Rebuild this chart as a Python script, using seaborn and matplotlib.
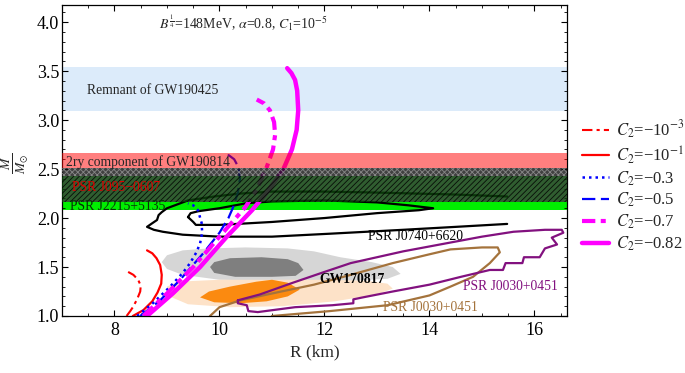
import numpy as np
import pandas as pd
import matplotlib
matplotlib.use('Agg')
import matplotlib.pyplot as plt
from matplotlib.ticker import MultipleLocator
import seaborn as sns

# ---------------- data ----------------
# M-R curves for different C2
r_c2_1e3 = [8.23, 8.30, 8.35, 8.43, 8.49, 8.50, 8.45, 8.36, 8.26]
m_c2_1e3 = [1.00, 1.05, 1.09, 1.17, 1.25, 1.31, 1.37, 1.42, 1.45]

r_c2_1e1 = [8.35, 8.55, 8.72, 8.82, 8.89, 8.90, 8.87, 8.80, 8.72, 8.62]
m_c2_1e1 = [1.00, 1.06, 1.15, 1.24, 1.33, 1.42, 1.52, 1.59, 1.64, 1.67]

r_c2_03 = [8.43, 8.73, 9.06, 9.30, 9.44, 9.56, 9.63, 9.67, 9.66, 9.59, 9.50, 9.40]
m_c2_03 = [1.00, 1.13, 1.30, 1.44, 1.54, 1.65, 1.74, 1.85, 1.95, 2.08, 2.13, 2.15]

r_c2_05 = [8.49, 8.87, 9.25, 9.69, 10.00, 10.17, 10.26, 10.35, 10.39, 10.36, 10.28, 10.18, 10.07]
m_c2_05 = [1.00, 1.16, 1.37, 1.64, 1.85, 2.00, 2.11, 2.26, 2.40, 2.52, 2.60, 2.64, 2.65]

r_c2_07 = [8.55, 9.00, 9.50, 10.00, 10.49, 10.71, 10.90, 11.02, 11.06, 11.04, 10.96, 10.85, 10.71]
m_c2_07 = [1.00, 1.23, 1.50, 1.81, 2.11, 2.29, 2.52, 2.70, 2.85, 2.98, 3.10, 3.17, 3.21]

r_c2_082 = [8.62, 9.11, 9.63, 10.14, 10.62, 10.90, 11.21, 11.38, 11.47, 11.50, 11.48, 11.44, 11.37, 11.29]
m_c2_082 = [1.00, 1.23, 1.50, 1.81, 2.08, 2.26, 2.49, 2.70, 2.90, 3.10, 3.30, 3.41, 3.48, 3.53]

# PSR J0740+6620 contours
r_j0740_out = [15.48, 14.5, 13.0, 12.0, 11.0, 10.4, 9.9, 9.4, 9.0, 8.9, 8.84, 8.81, 8.70, 8.62,
               8.75, 8.92, 9.3, 10.0, 11.0, 12.1, 13.5, 14.5, 15.48]
m_j0740_out = [2.22, 2.24, 2.26, 2.27, 2.27, 2.25, 2.22, 2.18, 2.10, 2.06, 2.03, 1.98, 1.94, 1.91,
               1.88, 1.86, 1.83, 1.81, 1.81, 1.84, 1.88, 1.91, 1.94]
r_j0740_in = [9.40, 9.45, 9.60, 10.0, 10.5, 11.0, 12.0, 13.0, 13.6, 14.07, 13.8, 13.0, 12.0, 11.0,
              10.0, 9.55, 9.50, 9.40]
m_j0740_in = [2.01, 2.05, 2.07, 2.10, 2.15, 2.17, 2.18, 2.16, 2.13, 2.10, 2.08, 2.05, 2.00, 1.96,
              1.93, 1.93, 1.96, 2.01]

# GW170817 regions
r_gw_hi_90 = [8.9, 9.0, 9.3, 9.8, 10.5, 11.3, 11.8, 12.3, 12.9, 13.3, 13.45, 13.2, 12.5, 11.0, 10.0, 9.3, 9.0]
m_gw_hi_90 = [1.55, 1.62, 1.67, 1.69, 1.70, 1.69, 1.66, 1.60, 1.55, 1.50, 1.43, 1.38, 1.36, 1.36, 1.37, 1.42, 1.48]
r_gw_hi_50 = [9.82, 9.9, 10.2, 10.8, 11.3, 11.5, 11.6, 11.45, 11.0, 10.3, 9.9]
m_gw_hi_50 = [1.50, 1.55, 1.59, 1.60, 1.58, 1.54, 1.47, 1.41, 1.40, 1.40, 1.44]
r_gw_lo_90 = [9.0, 9.2, 10.0, 11.0, 12.0, 12.8, 13.2, 13.3, 13.0, 12.2, 11.2, 10.2, 9.4, 9.05]
m_gw_lo_90 = [1.30, 1.35, 1.37, 1.37, 1.37, 1.36, 1.33, 1.28, 1.22, 1.15, 1.10, 1.09, 1.12, 1.20]
r_gw_lo_50 = [9.63, 9.8, 10.2, 10.7, 11.0, 11.3, 11.53, 11.3, 10.9, 10.4, 9.9]
m_gw_lo_50 = [1.19, 1.25, 1.30, 1.35, 1.37, 1.34, 1.27, 1.20, 1.15, 1.13, 1.14]

# PSR J0030+0451 contours
r_j0030_a = [9.78, 9.82, 10.0, 10.4, 11.0, 11.8, 12.5, 13.3, 14.0, 14.4, 15.0, 15.3, 15.34,
             15.15, 14.83, 14.4, 14.0, 13.2, 12.1, 11.0, 10.95]
m_j0030_a = [0.95, 1.00, 1.09, 1.16, 1.23, 1.32, 1.42, 1.54, 1.63, 1.68, 1.70, 1.70, 1.65,
             1.54, 1.40, 1.30, 1.21, 1.11, 1.05, 1.00, 0.95]
r_j0030_b = [10.35, 10.77, 11.4, 12.0, 12.5, 13.5, 14.4, 15.0, 15.6, 16.2, 16.52, 16.55, 16.33,
             16.43, 16.2, 16.1, 15.8, 15.77, 15.45, 15.4, 15.15, 14.6, 14.0, 13.3, 12.73, 12.55,
             12.55, 12.15, 11.44, 10.73, 10.55, 10.52, 10.35, 10.35]
m_j0030_b = [1.16, 1.22, 1.34, 1.45, 1.54, 1.66, 1.75, 1.81, 1.86, 1.88, 1.88, 1.85, 1.80,
             1.73, 1.69, 1.60, 1.60, 1.54, 1.54, 1.47, 1.47, 1.40, 1.32, 1.25, 1.19, 1.17,
             1.13, 1.11, 1.09, 1.04, 1.05, 1.11, 1.13, 1.16]

# Mass bands
band_gw190425 = (3.09, 3.54)
band_gw190814 = (2.51, 2.665)
band_top_hatch = (2.43, 2.51)
band_j0952 = (2.16, 2.43)
band_j2215 = (2.08, 2.16)

curve_labels = ['$C_2$=\u221210$^{-3}$', '$C_2$=\u221210$^{-1}$', '$C_2$=\u22120.3',
                '$C_2$=\u22120.5', '$C_2$=\u22120.7', '$C_2$=\u22120.82']
x_ticks = [8, 10, 12, 14, 16]

# ---------------- style ----------------
sns.set_style('ticks')
plt.rcParams['font.family'] = ['Liberation Serif', 'DejaVu Serif']
plt.rcParams['mathtext.fontset'] = 'stix'
plt.rcParams['hatch.linewidth'] = 0.6

fig = plt.figure(figsize=(6.85, 3.73), dpi=100)
ax = fig.add_axes([62/685, 1-316/373, 505/685, 311/373])

# bands
ax.axhspan(*band_gw190425, color='#dcebfa', lw=0, zorder=0)
ax.axhspan(*band_j2215, color='#00ee00', lw=0, zorder=0.5)

# GW170817 filled regions
ax.fill(r_gw_hi_90, m_gw_hi_90, color='#d6d6d6', lw=0, zorder=1)
ax.fill(r_gw_lo_90, m_gw_lo_90, color='#fde2c8', lw=0, zorder=1)
ax.fill(r_gw_hi_50, m_gw_hi_50, color='#7f7f7f', lw=0, zorder=1.1)
ax.fill(r_gw_lo_50, m_gw_lo_50, color='#fb8a10', lw=0, zorder=1.1)

def draw(r, m, **kw):
    df = pd.DataFrame({'R': r, 'M': m})
    sns.lineplot(data=df, x='R', y='M', sort=False, estimator=None, ax=ax, legend=False, **kw)

# contours
draw(r_j0740_out, m_j0740_out, color='black', lw=1.6, zorder=2)
draw(r_j0740_in, m_j0740_in, color='black', lw=1.6, zorder=2)
draw(r_j0030_a, m_j0030_a, color='#a4733c', lw=1.6, zorder=2)
draw(r_j0030_b, m_j0030_b, color='#82117f', lw=1.6, zorder=2)

# M-R curves
draw(r_c2_1e3, m_c2_1e3, color='#ff0000', lw=1.5, linestyle=(0, (5, 2, 1.5, 2)), label=curve_labels[0], zorder=2.5)
draw(r_c2_1e1, m_c2_1e1, color='#ff0000', lw=1.6, linestyle='-', label=curve_labels[1], zorder=2.5)
draw(r_c2_03, m_c2_03, color='#0000ff', lw=1.8, linestyle=(0, (1, 1.6)), label=curve_labels[2], zorder=2.5)
draw(r_c2_05, m_c2_05, color='#0000ff', lw=1.6, linestyle=(0, (6, 2.5)), label=curve_labels[3], zorder=2.5)
draw(r_c2_07, m_c2_07, color='#ff00ff', lw=3.0, linestyle=(0, (3.2, 1.3, 1.2, 1.3)), label=curve_labels[4], zorder=2.5)
draw(r_c2_082, m_c2_082, color='#ff00ff', lw=3.2, linestyle='-', label=curve_labels[5], zorder=2.4)

# overlay bands (semi-transparent over curves)
ax.axhspan(*band_gw190814, facecolor='#ff0000', alpha=0.5, lw=0, zorder=3)
ax.axhspan(*band_top_hatch, facecolor='#111111', edgecolor='#9a9a9a', hatch='xxxxxx', alpha=0.8, lw=0, zorder=3)
ax.axhspan(*band_j0952, facecolor='#0b400b', edgecolor='#000000', hatch='//////', alpha=0.85, lw=0, zorder=3)

# texts
fs = 9.8
ax.text(8.85, 4.0, r'$B^{\frac{1}{4}}$=148MeV, $\alpha$=0.8, $C_1$=10$^{-5}$', fontsize=10, va='center', zorder=5)
ax.text(7.48, 3.30, 'Remnant of GW190425', fontsize=fs, va='center', zorder=5)
ax.text(7.08, 2.575, '2ry component of GW190814', fontsize=fs, va='center', zorder=5)
ax.text(7.19, 2.31, 'PSR J095\u22120607', fontsize=fs, va='center', color='#dd0000', zorder=5)
ax.text(7.15, 2.115, 'PSR J2215+5135', fontsize=fs, va='center', color='#063306', zorder=5)
ax.text(12.83, 1.81, 'PSR J0740+6620', fontsize=fs, va='center', color='black', zorder=5)
ax.text(11.91, 1.375, 'GW170817', fontsize=fs, va='center', color='black', fontweight='bold', zorder=5)
ax.text(14.64, 1.30, 'PSR J0030+0451', fontsize=fs, va='center', color='#82117f', zorder=5)
ax.text(13.11, 1.09, 'PSR J0030+0451', fontsize=fs, va='center', color='#a4733c', zorder=5)

# axes
ax.set_xlim(7.0, 16.62)
ax.set_ylim(1.0, 4.175)
ax.set_xticks(x_ticks)
ax.xaxis.set_minor_locator(MultipleLocator(0.5))
ax.yaxis.set_major_locator(MultipleLocator(0.5))
ax.yaxis.set_minor_locator(MultipleLocator(0.1))
ax.tick_params(which='both', direction='in', top=True, right=True, colors='black', labelsize=13)
ax.tick_params(which='major', length=4.5, width=0.8)
ax.tick_params(which='minor', length=2.5, width=0.6)
ax.tick_params(axis='y', pad=2)
ax.tick_params(axis='x', pad=4)
for s in ax.spines.values():
    s.set_color('black')
    s.set_linewidth(0.9)
ax.set_xlabel('R (km)', fontsize=12.5, labelpad=4)
ax.set_ylabel('')
fig.text(15/685, 1-163/373, r'$\frac{M}{M_{\odot}}$', rotation=90, fontsize=14, ha='center', va='center')

handles, labels = ax.get_legend_handles_labels()
leg = fig.legend(handles, labels, loc='upper left', bbox_to_anchor=(0.840, 0.70), frameon=False,
                 fontsize=12, handlelength=1.6, handletextpad=0.45, labelspacing=0.2, borderaxespad=0)

fig.savefig('out.png', dpi=100, facecolor='white')
